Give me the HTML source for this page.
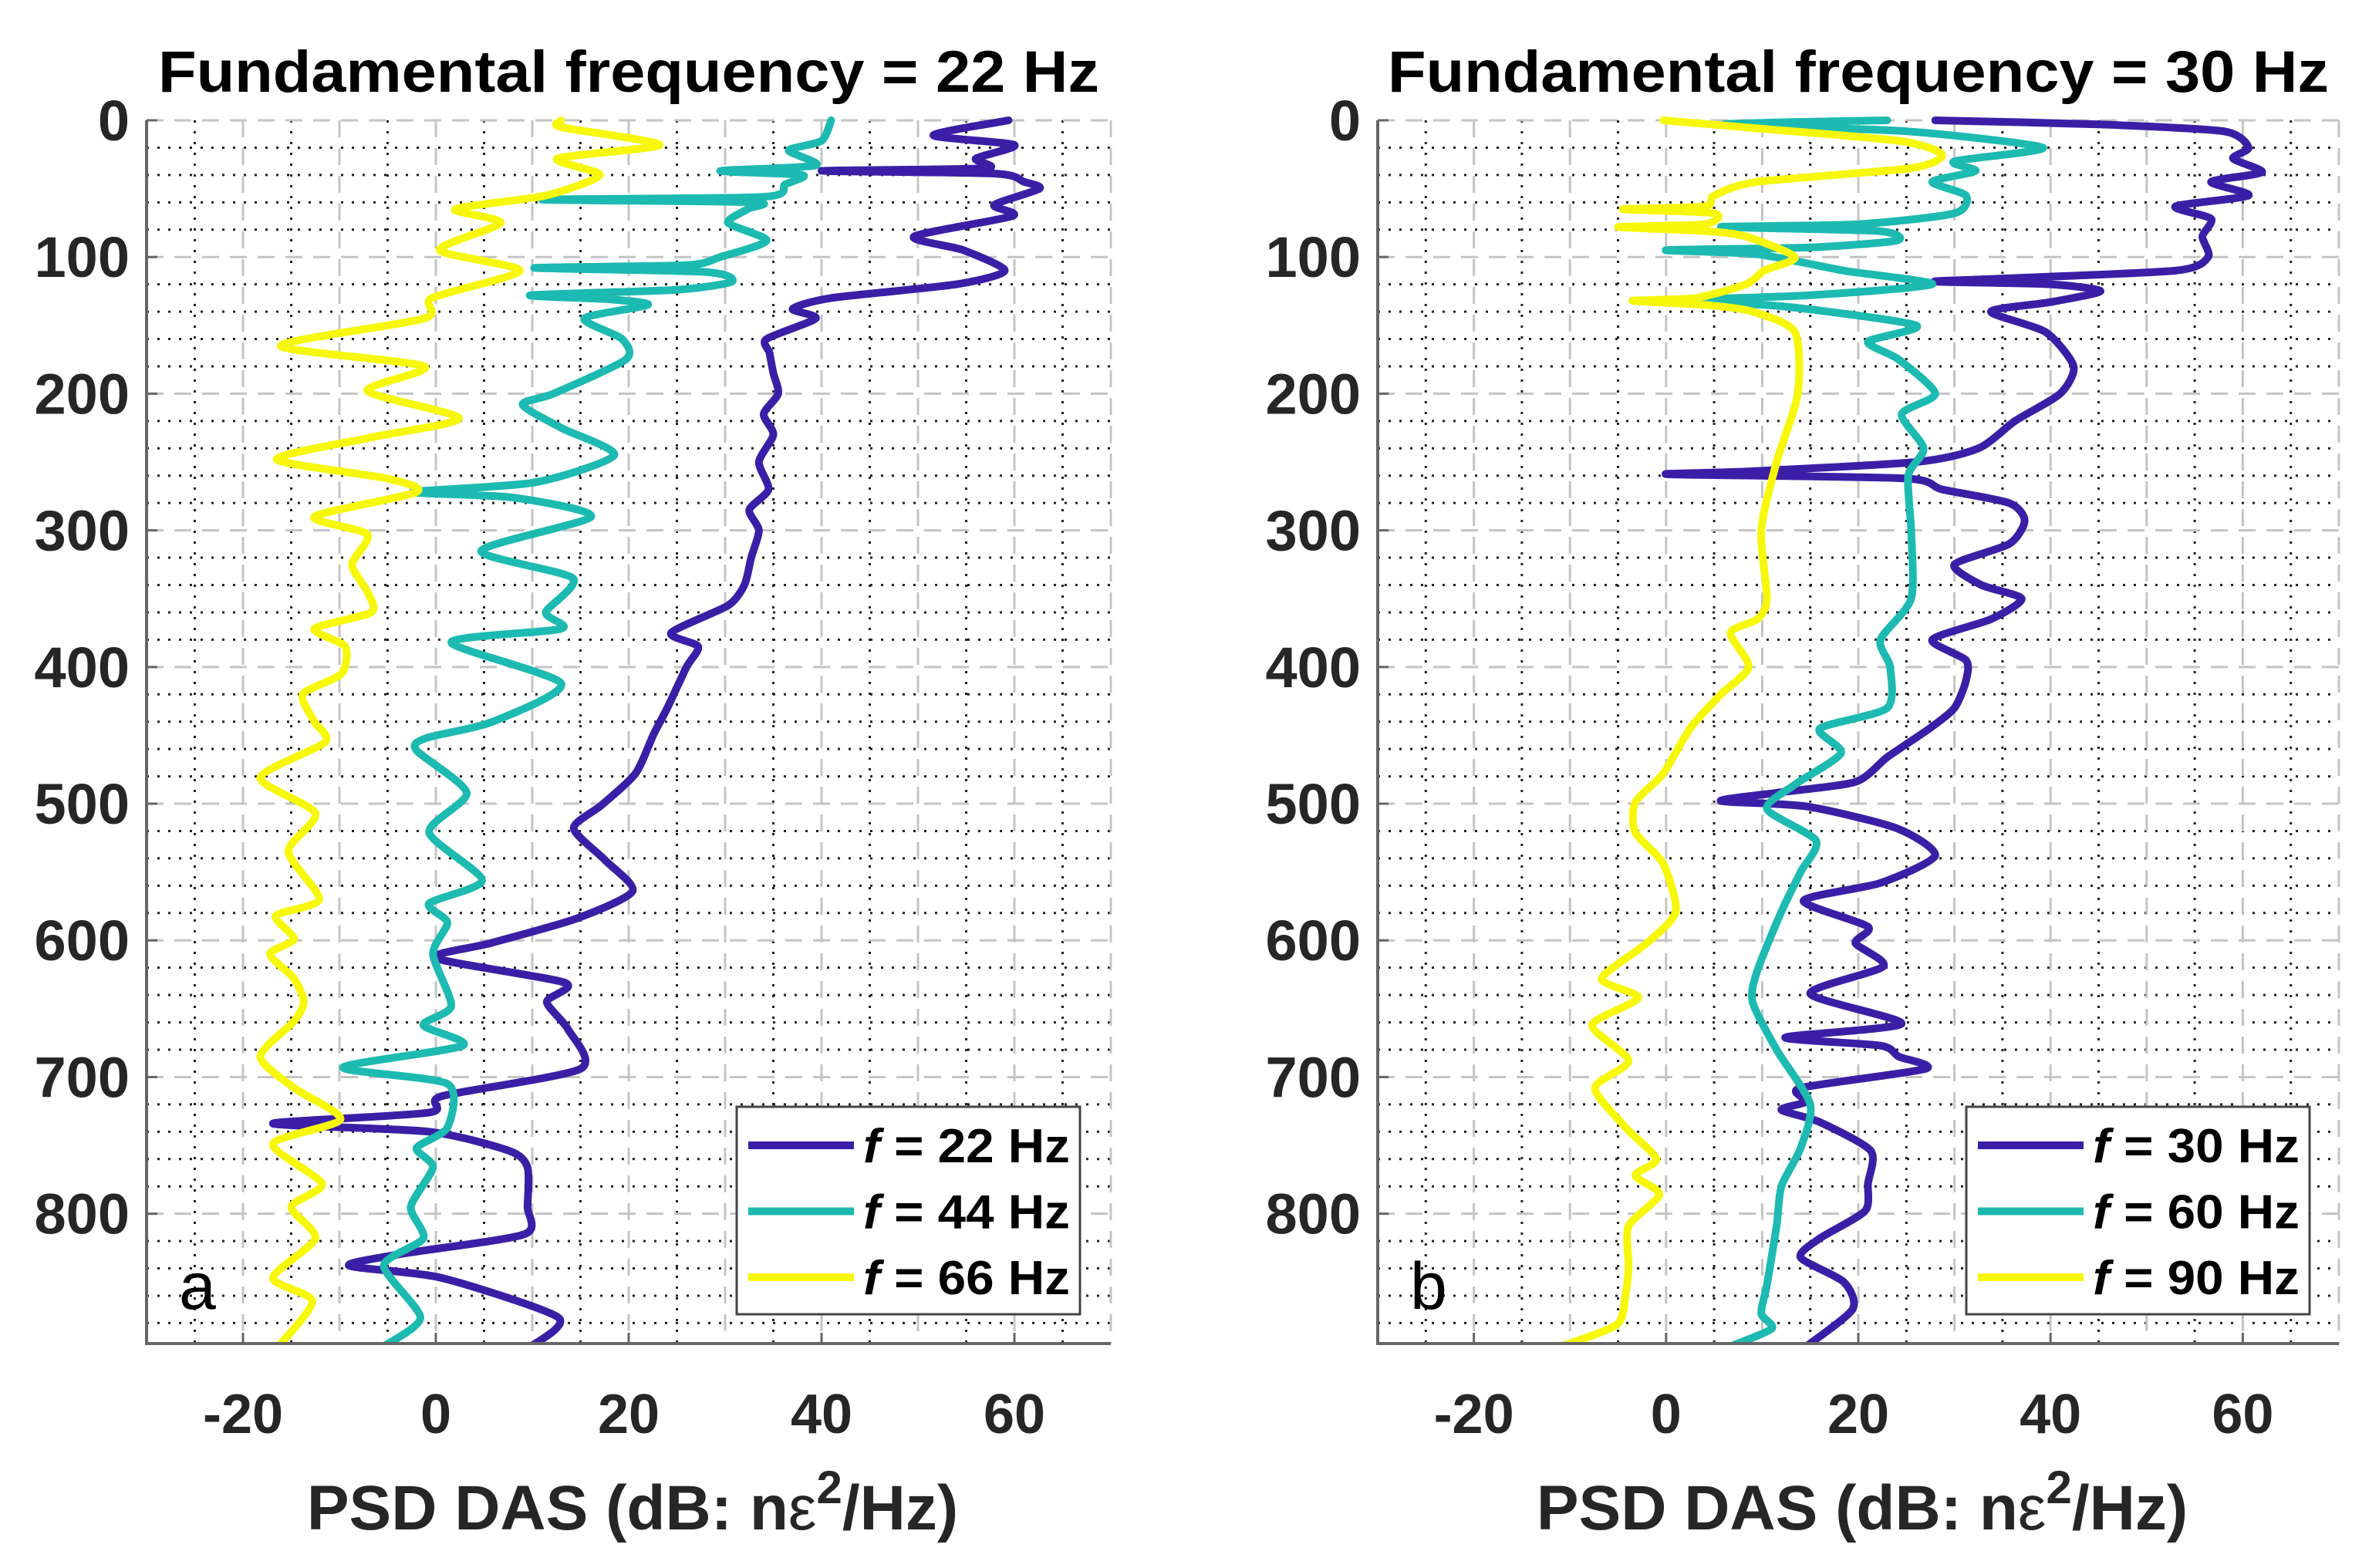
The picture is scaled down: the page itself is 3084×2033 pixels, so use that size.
<!DOCTYPE html>
<html><head><meta charset="utf-8"><style>
html,body{margin:0;padding:0;background:#fff;}
svg{display:block;font-family:"Liberation Sans",Arial,sans-serif;}
</style></head><body>
<svg id="fig" width="3084" height="2033" viewBox="0 0 3084 2033" xmlns="http://www.w3.org/2000/svg">
<rect x="0" y="0" width="3084" height="2033" fill="#fff"/>
</svg>
<script>
// ---- data (depth in m, PSD in dB) ----
const xTicks = [-20, 0, 20, 40, 60];
const yTicks = [0, 100, 200, 300, 400, 500, 600, 700, 800];
const xDomain = [-30, 70];
const yDomain = [0, 895];

const titlesArr = ["Fundamental frequency = 22 Hz", "Fundamental frequency = 30 Hz"];
const panelLetters = ["a", "b"];
const legendA = ["22", "44", "66"];
const legendB = ["30", "60", "90"];

const a22Depth = [0,11,18,28,35,37,39,45,50,62,70,85,95,110,120,130,138,145,160,170,185,200,215,230,250,270,285,300,320,340,355,375,385,400,430,449,478,501,518,541,564,584,602,613,631,645,665,694,714,726,734,740,754,766,795,815,829,838,847,876,897];
const a22Val = [59.4,51.6,60,56,57,40,58,61,62.6,57.9,59.8,49.6,54.7,59,54,41,37,39.4,34.3,34.6,35,35.5,34,35,33.5,34.5,32.5,33.5,32.7,32,30.3,24.4,27.2,26,24,22.6,20.7,17.2,14.3,17.5,20.4,14.6,5.7,0,13.4,11.5,13.7,15,0.6,-0.7,-16.9,-0.7,7.6,9.5,9.5,9.2,-3.2,-9,0.6,12.7,9.9];

const a44Depth = [0,15,22,33,37,40,47,56,58,60,65,75,88,100,106,108,111,118,124,128,131,135,145,160,175,200,208,225,245,265,272,276,290,315,335,360,372,382,412,440,452,461,492,521,556,573,587,610,648,662,677,693,705,737,752,766,795,818,838,876,897];
const a44Val = [41,40,36.6,39.4,29.5,38,36.2,34,11,33,32.3,30.3,34.3,29.5,26,10.2,28,30.7,25,9.8,18,22,15.4,19.3,19.7,12.2,9,13,18.5,10.2,-2.4,8,16.1,4.7,14.2,11.4,13,1.6,13,5.9,-1,-2,3.2,-0.7,4.8,-0.7,1.2,-0.3,1.6,-1.3,2.8,-9.6,1.2,1.2,-2,-0.3,-2.6,-1.3,-5.4,-1.6,-5.4];

const a66Depth = [0,5,18,28,40,55,65,75,95,110,130,145,165,180,198,218,232,248,262,272,290,303,325,345,360,372,385,405,420,440,455,481,507,535,570,582,599,610,628,645,659,685,708,731,749,778,795,818,847,864,897];
const a66Val = [13,13,23.2,12.6,17,11.4,2,6.7,0.4,8.7,-0.4,-1.2,-16.1,-1.2,-7.1,2.4,-6.7,-16.5,-5.1,-2,-12.6,-7.1,-8.7,-7.1,-6.7,-12.6,-9.4,-9.8,-13.8,-12.6,-11.5,-18.2,-12.5,-15.3,-12.1,-16.6,-14.7,-17.2,-14.7,-13.7,-14.7,-18.2,-14.7,-9.9,-16.9,-11.8,-15,-12.5,-16.9,-12.8,-16.3];

const b30Depth = [0,3,8,20,28,38,45,55,63,72,85,100,110,116,118,120,125,133,140,155,180,200,220,240,250,257,259,262,270,280,293,310,325,340,350,365,380,395,410,430,445,466,484,492,498,502,518,538,558,571,590,602,619,639,661,671,677,685,694,708,718,724,733,754,778,798,818,832,850,870,897];
const b30Val = [28,45,58,60.6,59,62,56.7,60.6,53,56.7,55.8,56.4,53,34,28,40,45.2,40,33.8,39.5,42.4,41,36.3,32.5,26,8.3,0.3,24.8,28.7,35.7,37.3,35.7,30,32.8,37,33.8,27.7,31.2,31.2,30,27.4,23,19.7,11.5,5.7,14.6,24,28,22.3,14.3,21,19.7,22.6,15,24.5,12.4,22.3,24.2,27,14,14.6,12,16,21.3,21,20.7,16,14,18.5,19.4,14.6];

const b60Depth = [0,3,8,20,30,37,45,55,68,76,78,81,88,93,95,98,110,120,128,132,136,150,162,175,200,215,240,260,300,350,380,400,430,445,463,486,504,527,550,579,622,645,680,720,752,780,809,852,873,884,897];
const b60Val = [23,6,25,39.2,30,32.2,27.7,31.2,30,20,5.7,22,24,15,0,9.5,18.5,27.7,15,0.6,12,26,21,24.2,28,24.5,26.8,25.2,25.5,25.5,22.3,23.3,23,16,18.2,13.4,10.5,15.6,14,12,9.5,9,11.5,15,14,12,11.5,10.5,9.9,11,6.7];

const b90Depth = [0,5,15,25,35,45,55,63,65,68,76,78,81,85,100,110,120,130,132,135,140,155,200,250,300,350,365,375,400,420,445,478,499,521,544,579,602,628,642,662,688,708,737,760,772,786,809,838,858,881,897];
const b90Val = [-0.3,8,24.2,28.7,25.5,9.5,5,4,-4.5,5,4,-5,4,8.3,13.4,10.2,8.3,3,-3.5,4,9,13.4,13.7,11.5,9.9,10.5,9.5,6.7,8.6,5.7,2.5,-0.3,-3.2,-3.2,-0.3,1,-2,-6.7,-2.9,-7.7,-3.9,-7.4,-4.2,-1,-3.2,-0.7,-3.9,-3.9,-4.2,-5.1,-10.9];

const seriesColors = ["#3a1fa6", "#1dbab1", "#f7f70c"];

const NS = "http://www.w3.org/2000/svg";
const svg = document.getElementById("fig");
function mk(tag, attrs, parent) {
  const e = document.createElementNS(NS, tag);
  for (const k in attrs) e.setAttribute(k, attrs[k]);
  (parent || svg).appendChild(e);
  return e;
}
function smoothPath(pts) {
  let d = "M" + pts[0][0].toFixed(1) + "," + pts[0][1].toFixed(1);
  const t = 0.12;
  for (let i = 0; i < pts.length - 1; i++) {
    const p0 = pts[Math.max(0, i - 1)], p1 = pts[i], p2 = pts[i + 1], p3 = pts[Math.min(pts.length - 1, i + 2)];
    const c1x = p1[0] + (p2[0] - p0[0]) * t, c1y = p1[1] + (p2[1] - p0[1]) * t;
    const c2x = p2[0] - (p3[0] - p1[0]) * t, c2y = p2[1] - (p3[1] - p1[1]) * t;
    d += " C" + c1x.toFixed(1) + "," + c1y.toFixed(1) + " " + c2x.toFixed(1) + "," + c2y.toFixed(1) + " " + p2[0].toFixed(1) + "," + p2[1].toFixed(1);
  }
  return d;
}

const panels = [
  {left:190, right:1440, top:156, bottom:1742, series:[[a22Depth,a22Val],[a44Depth,a44Val],[a66Depth,a66Val]], legend:legendA, legLeft:955},
  {left:1786, right:3032, top:156, bottom:1742, series:[[b30Depth,b30Val],[b60Depth,b60Val],[b90Depth,b90Val]], legend:legendB, legLeft:2549}
];

panels.forEach((p, pi) => {
  const xs = v => p.left + (v - xDomain[0]) / (xDomain[1] - xDomain[0]) * (p.right - p.left);
  const ys = d => p.top + (d - yDomain[0]) / (yDomain[1] - yDomain[0]) * (p.bottom - p.top);
  const g = mk("g", {});
  
  

  for (let v = xDomain[0] + 5; v < xDomain[1]; v += 10) {
    const l = mk("line", {x1:xs(v), x2:xs(v), y1:p.top, y2:p.bottom, stroke:"#222", "stroke-width":3, "stroke-dasharray":"3 11"}, g);
    
    
  }
  for (let d = 20; d < yDomain[1]; d += 20) {
    if (d % 100 === 0) continue;
    const l = mk("line", {x1:p.left, x2:p.right, y1:ys(d), y2:ys(d), stroke:"#222", "stroke-width":3, "stroke-dasharray":"3 11"}, g);
    
    
  }
  for (let v = xDomain[0] + 10; v <= xDomain[1]; v += 10) {
    const l = mk("line", {x1:xs(v), x2:xs(v), y1:p.top, y2:p.bottom, stroke:"#c4c4c4", "stroke-width":3, "stroke-dasharray":"22 14"}, g);
    
    
  }
  yTicks.forEach(d => {
    const l = mk("line", {x1:p.left, x2:p.right, y1:ys(d), y2:ys(d), stroke:"#c4c4c4", "stroke-width":3, "stroke-dasharray":"22 14"}, g);
    
    
  });

  const cp = mk("clipPath", {id:"clip" + pi}, g);
  mk("rect", {x:p.left, y:p.top - 6, width:p.right - p.left, height:p.bottom - p.top + 6}, cp);

  p.series.forEach((s, si) => {
    const pts = s[0].map((d, i) => [xs(s[1][i]), ys(d)]);
    const pl = mk("path", {d:smoothPath(pts), fill:"none", stroke:seriesColors[si], "stroke-width":10, "stroke-linejoin":"round", "stroke-linecap":"round", "clip-path":"url(#clip" + pi + ")"}, g);
    
    
  });

  const ax = mk("path", {d:`M${p.left},${p.top} L${p.left},${p.bottom} L${p.right},${p.bottom}`, fill:"none", stroke:"#666", "stroke-width":4}, g);
  
  

  xTicks.forEach(v => {
    const t = mk("line", {x1:xs(v), x2:xs(v), y1:p.bottom, y2:p.bottom - 14, stroke:"#666", "stroke-width":3}, g);
    
    
    const tl = mk("text", {x:xs(v), y:1858, "text-anchor":"middle", "font-size":72, "font-weight":"bold", fill:"#262626"}, g);
    tl.textContent = String(v);
    
    
  });
  yTicks.forEach(d => {
    const t = mk("line", {x1:p.left, x2:p.left + 14, y1:ys(d), y2:ys(d), stroke:"#666", "stroke-width":3}, g);
    
    
    const tl = mk("text", {x:p.left - 22, y:ys(d) + 26, "text-anchor":"end", "font-size":74, "font-weight":"bold", fill:"#262626"}, g);
    tl.textContent = String(d);
    
    
  });

  const cx = (p.left + p.right) / 2;
  const tt = mk("text", {x:cx, y:119, "text-anchor":"middle", "font-size":76, "font-weight":"bold", fill:"#000", textLength:1220, lengthAdjust:"spacingAndGlyphs"}, g);
  tt.textContent = titlesArr[pi];
  
  

  const xl = mk("text", {x:cx + 5, y:1983, "text-anchor":"middle", "font-size":82, "font-weight":"bold", fill:"#262626"}, g);
  xl.innerHTML = 'PSD DAS (dB: n<tspan font-weight="normal">ε</tspan><tspan dy="-34" font-size="60">2</tspan><tspan dy="34">/Hz)</tspan>';
  
  

  const lt = mk("text", {x:p.left + 42, y:1697, "font-size":86, fill:"#000"}, g);
  lt.textContent = panelLetters[pi];
  
  

  const lg = mk("g", {}, g);
  
  
  const lb = mk("rect", {x:p.legLeft, y:1435, width:445, height:269, fill:"#fff", stroke:"#444", "stroke-width":3}, lg);
  
  
  p.legend.forEach((f, si) => {
    const yy = 1485 + si * 85.5;
    const ll = mk("line", {x1:p.legLeft + 15, x2:p.legLeft + 152, y1:yy, y2:yy, stroke:seriesColors[si], "stroke-width":10}, lg);
    
    
    const lt2 = mk("text", {x:p.legLeft + 164, y:yy + 22, "font-size":62, "font-weight":"bold", fill:"#000", textLength:268, lengthAdjust:"spacingAndGlyphs"}, lg);
    lt2.innerHTML = '<tspan font-style="italic">f</tspan> = ' + f + ' Hz';
    
    
  });
});
</script>
</body></html>
